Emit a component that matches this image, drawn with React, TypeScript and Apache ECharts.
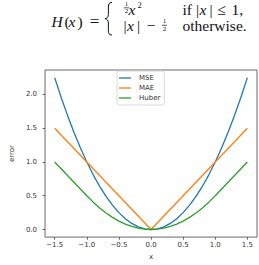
import React, { useEffect, useRef } from "react";
import * as echarts from "echarts";

// Sampled loss curves, step 0.1 over [-1.5, 1.5]
const xValues = [
  -1.5, -1.4, -1.3, -1.2, -1.1, -1.0, -0.9, -0.8, -0.7, -0.6, -0.5, -0.4, -0.3, -0.2, -0.1, 0.0,
  0.1, 0.2, 0.3, 0.4, 0.5, 0.6, 0.7, 0.8, 0.9, 1.0, 1.1, 1.2, 1.3, 1.4, 1.5,
];
const mseValues = [
  2.25, 1.96, 1.69, 1.44, 1.21, 1.0, 0.81, 0.64, 0.49, 0.36, 0.25, 0.16, 0.09, 0.04, 0.01, 0.0,
  0.01, 0.04, 0.09, 0.16, 0.25, 0.36, 0.49, 0.64, 0.81, 1.0, 1.21, 1.44, 1.69, 1.96, 2.25,
];
const maeValues = [
  1.5, 1.4, 1.3, 1.2, 1.1, 1.0, 0.9, 0.8, 0.7, 0.6, 0.5, 0.4, 0.3, 0.2, 0.1, 0.0,
  0.1, 0.2, 0.3, 0.4, 0.5, 0.6, 0.7, 0.8, 0.9, 1.0, 1.1, 1.2, 1.3, 1.4, 1.5,
];
const huberValues = [
  1.0, 0.9, 0.8, 0.7, 0.6, 0.5, 0.405, 0.32, 0.245, 0.18, 0.125, 0.08, 0.045, 0.02, 0.005, 0.0,
  0.005, 0.02, 0.045, 0.08, 0.125, 0.18, 0.245, 0.32, 0.405, 0.5, 0.6, 0.7, 0.8, 0.9, 1.0,
];
const seriesNames = ["MSE", "MAE", "Huber"];
const seriesColors = ["#1f77b4", "#ff7f0e", "#2ca02c"];
const xTicks = [-1.5, -1.0, -0.5, 0.0, 0.5, 1.0, 1.5];
const yTicks = [0.0, 0.5, 1.0, 1.5, 2.0];
const xLimits = [-1.65, 1.65];
const yLimits = [-0.1125, 2.3625];

// Curly brace for the piecewise definition
echarts.graphic.registerShape(
  "brace",
  echarts.graphic.extendPath(
    "M7,0.5 C4,0.5 3.4,2 3.4,5 L3.4,12.5 C3.4,15 2,16.4 0,16.7 C2,17 3.4,18.4 3.4,21 L3.4,28.5 C3.4,31.5 4,33 7,33",
    {}
  )
);

const SERIF = "'Liberation Serif', 'DejaVu Serif', serif";
const SANS = "'DejaVu Sans', sans-serif";
const INK = "#111";

function txt(
  x: number,
  y: number,
  text: string,
  size: number,
  opts: { italic?: boolean; align?: string } = {}
) {
  return {
    type: "text",
    x,
    y,
    silent: true,
    style: {
      text,
      fontFamily: SERIF,
      fontSize: size,
      fontStyle: opts.italic ? "italic" : "normal",
      fill: INK,
      align: opts.align || "left",
      verticalAlign: "middle",
      textAlign: opts.align || "left",
      textVerticalAlign: "middle",
    },
  };
}

function bar(x1: number, x2: number, y: number) {
  return {
    type: "line",
    shape: { x1, y1: y, x2, y2: y },
    style: { stroke: INK, lineWidth: 0.7 },
    silent: true,
  };
}

// |x| drawn as three pieces so the bars get math spacing
function absX(left: number, y: number, size: number) {
  return [
    txt(left, y, "|", size),
    txt(left + 3.5, y, "x", size, { italic: true }),
    txt(left + 13.5, y, "|", size),
  ];
}

export default function App() {
  const ref = useRef<HTMLDivElement>(null);

  useEffect(() => {
    if (!ref.current) return;
    const chart = echarts.init(ref.current, null, { renderer: "svg" });
    const series = [mseValues, maeValues, huberValues].map((vals, k) => ({
      name: seriesNames[k],
      type: "line",
      data: xValues.map((x, i) => [x, vals[i]]),
      symbol: "none",
      smooth: false,
      lineStyle: { color: seriesColors[k], width: 1.3 },
      itemStyle: { color: seriesColors[k] },
      z: 2 + k,
    }));

    const fmt = (v: number) => v.toFixed(1).replace("-", "\u2212");
    const frameColor = "#444";
    const fs = 15.5;

    chart.setOption({
      animation: false,
      backgroundColor: "#fff",
      grid: {
        left: 22,
        top: 70,
        width: 235,
        height: 174,
        show: true,
        borderColor: frameColor,
        borderWidth: 0.8,
        backgroundColor: "transparent",
        containLabel: false,
      },
      xAxis: {
        type: "value",
        min: xLimits[0],
        max: xLimits[1],
        axisLine: { show: false, onZero: false },
        splitLine: { show: false },
        axisTick: {
          show: true,
          length: 2.5,
          customValues: xTicks,
          lineStyle: { color: frameColor, width: 0.8 },
        },
        axisLabel: {
          customValues: xTicks,
          formatter: fmt,
          fontSize: 7,
          fontFamily: SANS,
          color: "#333",
          margin: 4,
        },
        name: "x",
        nameLocation: "middle",
        nameGap: 11,
        nameTextStyle: { fontSize: 7, fontFamily: SANS, color: "#333" },
      },
      yAxis: {
        type: "value",
        min: yLimits[0],
        max: yLimits[1],
        axisLine: { show: false, onZero: false },
        splitLine: { show: false },
        axisTick: {
          show: true,
          length: 2.5,
          customValues: yTicks,
          lineStyle: { color: frameColor, width: 0.8 },
        },
        axisLabel: {
          customValues: yTicks,
          formatter: fmt,
          fontSize: 7,
          fontFamily: SANS,
          color: "#333",
          margin: 8,
        },
        name: "error",
        nameLocation: "middle",
        nameRotate: 90,
        nameGap: 18,
        nameTextStyle: { fontSize: 7, fontFamily: SANS, color: "#333" },
      },
      legend: {
        data: seriesNames,
        orient: "vertical",
        left: 117,
        top: 71,
        padding: [3, 4, 3, 2],
        icon: "rect",
        itemWidth: 12,
        itemHeight: 1.3,
        itemGap: 2,
        backgroundColor: "rgba(255,255,255,0.85)",
        borderColor: "#d0d0d0",
        borderWidth: 0.8,
        borderRadius: 2,
        textStyle: {
          fontSize: 7,
          lineHeight: 8,
          fontFamily: SANS,
          color: "#333",
          padding: [0, 0, 0, 3],
        },
      },
      series,
      graphic: [
        // H(x) =
        txt(51.5, 21, "H", fs, { italic: true }),
        txt(64.5, 21, "(", fs),
        txt(68.5, 21, "x", fs, { italic: true }),
        txt(77.5, 21, ")", fs),
        txt(94.5, 21, "=", 17, { align: "center" }),
        {
          type: "brace",
          x: 105,
          y: 2,
          style: { fill: "none", stroke: INK, lineWidth: 1 },
          silent: true,
        },
        // first case: ½x²   if |x| ≤ 1,
        txt(126.5, 4.2, "1", 7, { align: "center" }),
        bar(124, 129, 7.8),
        txt(126.5, 11.4, "2", 7, { align: "center" }),
        txt(128.5, 9, "x", fs, { italic: true }),
        txt(139.5, 4.6, "2", 8.5, { align: "center" }),
        txt(182.5, 9, "if", fs),
        ...absX(196, 9, fs),
        txt(221.5, 9, "\u2264", fs, { align: "center" }),
        txt(231.5, 9, "1,", fs),
        // second case: |x| − ½   otherwise.
        ...absX(123.5, 25.5, fs),
        txt(151, 25.5, "\u2212", fs, { align: "center" }),
        txt(164.5, 21.2, "1", 7, { align: "center" }),
        bar(162, 167, 25.3),
        txt(164.5, 29.2, "2", 7, { align: "center" }),
        txt(182.5, 25.5, "otherwise.", fs),
      ],
    });

    return () => chart.dispose();
  }, []);

  return (
    <div
      ref={ref}
      style={{ position: "absolute", left: 0, top: 0, width: 259, height: 265, background: "#fff" }}
    />
  );
}
